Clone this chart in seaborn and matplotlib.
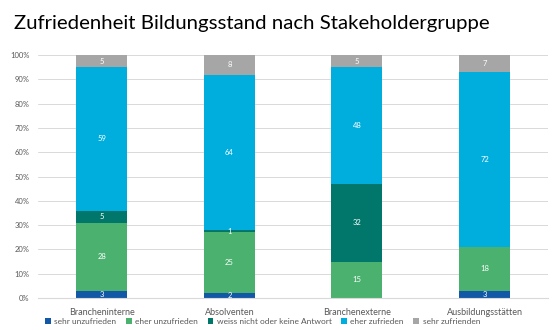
import matplotlib
matplotlib.use("Agg")
import matplotlib.pyplot as plt
import seaborn as sns
import numpy as np

categories = ["Brancheninterne", "Absolventen", "Branchenexterne", "Ausbildungsstätten"]
series_names = ["sehr unzufrieden", "eher unzufrieden", "weiss nicht oder keine Antwort",
                "eher zufrieden", "sehr zufrienden"]
sehr_unzufrieden = [3, 2, 0, 3]
eher_unzufrieden = [28, 25, 15, 18]
weiss_nicht = [5, 1, 32, 0]
eher_zufrieden = [59, 64, 48, 72]
sehr_zufrieden = [5, 8, 5, 7]
series_values = [sehr_unzufrieden, eher_unzufrieden, weiss_nicht, eher_zufrieden, sehr_zufrieden]
colors = ["#1358A7", "#4BB16F", "#00776A", "#00AEDE", "#A6A6A6"]

sns.set_theme(style="white")
plt.rcParams["font.family"] = ["Lato", "DejaVu Sans"]

fig = plt.figure(figsize=(5.6, 3.3), dpi=100)
ax = fig.add_axes([0.068, 0.097, 0.911, 0.736])

bottom = np.zeros(len(categories))
for name, vals, col in zip(series_names, series_values, colors):
    vals = np.array(vals, dtype=float)
    sns.barplot(x=categories, y=vals, bottom=bottom, color=col, width=0.4,
                ax=ax, label=name, saturation=1, linewidth=0)
    for i, v in enumerate(vals):
        if v > 0:
            ax.text(i, bottom[i] + v / 2, f"{int(v)}", ha="center", va="center",
                    color="white", fontsize=5.5)
    bottom += vals

ax.set_ylim(0, 100)
ax.set_xlim(-0.5, 3.5)
ax.set_yticks(range(0, 101, 10))
ax.set_yticklabels([f"{t}%" for t in range(0, 101, 10)], fontsize=5.5, color="#595959")
ax.tick_params(axis="x", labelsize=6.5, colors="#595959", length=0, pad=7)
ax.tick_params(axis="y", length=0, pad=6)
ax.yaxis.grid(True, color="#D9D9D9", linewidth=0.7)
ax.set_axisbelow(True)
for s in ["top", "right", "left"]:
    ax.spines[s].set_visible(False)
ax.spines["bottom"].set_color("#D9D9D9")
ax.spines["bottom"].set_linewidth(0.8)

fig.text(0.025, 0.93, "Zufriedenheit Bildungsstand nach Stakeholdergruppe",
         fontsize=14.7, color="#000000", ha="left", va="center")

ax.legend(loc="upper center", bbox_to_anchor=(0.44, -0.07), ncol=5, frameon=False,
          fontsize=6.0, labelcolor="#595959", handlelength=0.7, handleheight=0.7,
          handletextpad=0.4, columnspacing=1.15, borderaxespad=0)

fig.savefig("out.png", dpi=100)
